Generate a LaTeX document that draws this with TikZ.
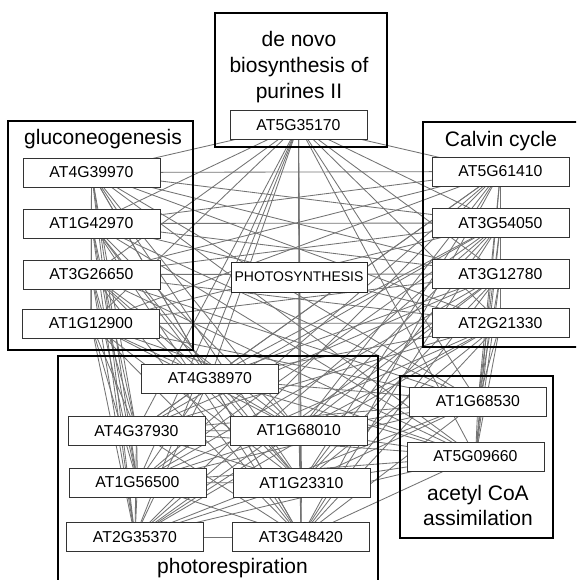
\documentclass[tikz,border=0pt]{standalone}
\usepackage{fontspec}
\setmainfont{Liberation Sans}
\pgfdeclarelayer{background}
\pgfsetlayers{background,main}
\tikzset{
  gene/.style={draw=black!80, line width=0.9pt, fill=white, minimum width=137pt, minimum height=29pt, inner sep=0pt, font=\fontsize{15.8}{18}\selectfont},
  hub/.style={draw=black!85, line width=0.9pt, fill=white, minimum width=136pt, minimum height=30pt, inner sep=0pt, font=\fontsize{14}{16}\selectfont},
  group/.style={draw=black, line width=1.1pt, inner sep=0pt},
  title/.style={anchor=base, inner sep=0pt, font=\fontsize{21}{25}\selectfont},
  edge/.style={draw=black!55, line width=0.85pt}
}
\begin{document}
\begin{tikzpicture}[x=1pt,y=-1pt]
\useasboundingbox (0,0) rectangle (576,580);
\clip (0,0) rectangle (576,580);
% group boxes
\node[group, minimum width=172pt, minimum height=134pt] (Gpur) at (301,80) {};
\node[group, minimum width=185pt, minimum height=229pt] (Gglu) at (100.5,235.5) {};
\node[group, minimum width=167pt, minimum height=225pt] (Gcal) at (506.5,234.5) {};
\node[group, minimum width=320pt, minimum height=234pt] (Gpho) at (218,473) {};
\node[group, minimum width=153pt, minimum height=162pt] (Gace) at (476.5,457) {};
% titles
\node[title] (t1) at (299,47) {de novo};
\node[title] (t2) at (299,73) {biosynthesis of};
\node[title] (t3) at (299,99) {purines II};
\node[title] (t4) at (103,145) {gluconeogenesis};
\node[title] (t5) at (501,147) {Calvin cycle};
\node[title] (t6) at (232.5,573) {photorespiration};
\node[title] (t7) at (478,500) {acetyl CoA};
\node[title] (t8) at (478,525) {assimilation};
% genes
\node[gene] (n1) at (298.5,125) {AT5G35170};
\node[gene] (g1) at (91.5,172.5) {AT4G39970};
\node[gene] (g2) at (91.5,223.5) {AT1G42970};
\node[gene] (g3) at (91.5,274.5) {AT3G26650};
\node[gene] (g4) at (91,323.5) {AT1G12900};
\node[gene] (c1) at (500.5,171.5) {AT5G61410};
\node[gene] (c2) at (500.5,223) {AT3G54050};
\node[gene] (c3) at (500.5,274) {AT3G12780};
\node[gene] (c4) at (500.5,323) {AT2G21330};
\node[gene] (p1) at (210,378.5) {AT4G38970};
\node[gene] (p2) at (136.5,431) {AT4G37930};
\node[gene] (p3) at (299,430.5) {AT1G68010};
\node[gene] (p4) at (137.5,482.5) {AT1G56500};
\node[gene] (p5) at (301.5,483) {AT1G23310};
\node[gene] (p6) at (135,537) {AT2G35370};
\node[gene] (p7) at (301,537) {AT3G48420};
\node[gene] (a1) at (478,401.5) {AT1G68530};
\node[gene] (a2) at (475.5,456.5) {AT5G09660};
\node[hub] (ph) at (299,277) {PHOTOSYNTHESIS};
% edges
\begin{pgfonlayer}{background}
\foreach \a [count=\i] in {n1,g1,g2,g3,g4,c1,c2,c3,c4,p1,p2,p3,p4,p5,p6,p7,a1,a2}{
  \foreach \b [count=\j] in {n1,g1,g2,g3,g4,c1,c2,c3,c4,p1,p2,p3,p4,p5,p6,p7,a1,a2}{
    \ifnum\j>\i \draw[edge] (\a.center) -- (\b.center);\fi
  }
}
\end{pgfonlayer}
\end{tikzpicture}
\end{document}
